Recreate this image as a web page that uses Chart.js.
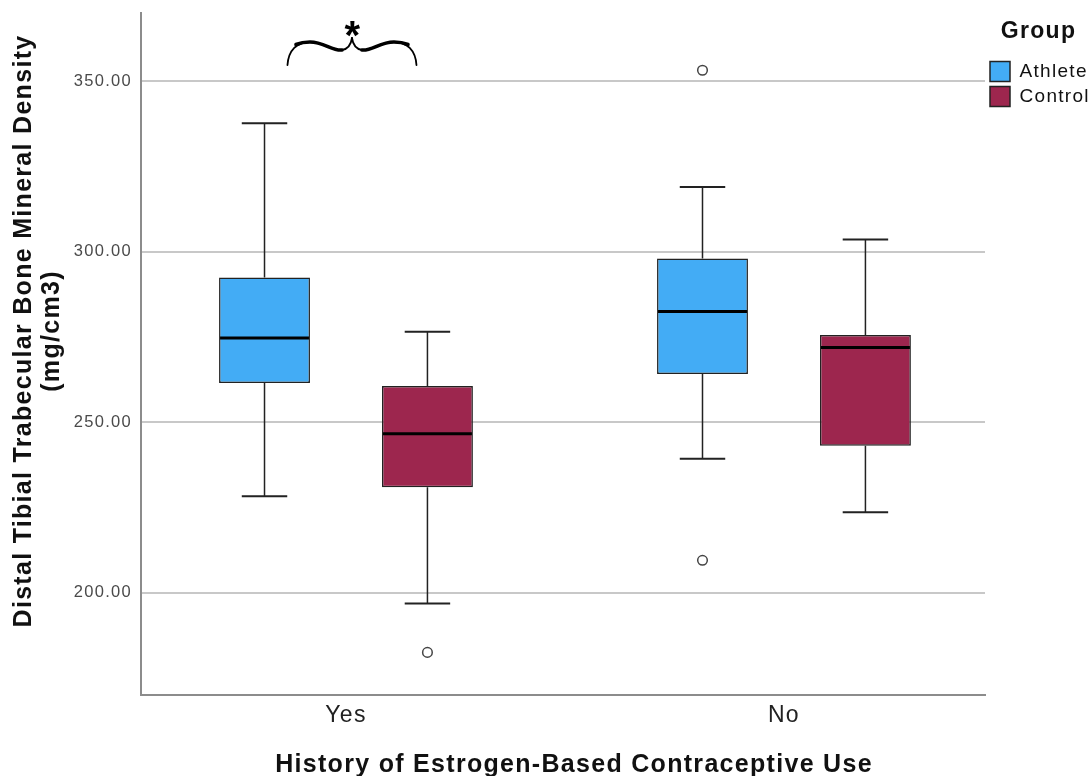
<!DOCTYPE html>
<html>
<head>
<meta charset="utf-8">
<script src="https://cdn.jsdelivr.net/npm/chart.js@4.4.1/dist/chart.umd.min.js"></script>
<style>
  html, body { margin: 0; padding: 0; background: #fff; }
  #wrap { width: 1092px; height: 776px; }
</style>
</head>
<body>
<div id="wrap"><canvas id="boxChart"></canvas></div>
<script>
// --- data ---
const categories = ['Yes', 'No'];
const groups = ['Athlete', 'Control'];
const yTicks = [200, 250, 300, 350];

const athleteMin = [228.3, 239.3];
const athleteQ1 = [261.5, 264.1];
const athleteMedian = [274.7, 282.5];
const athleteQ3 = [292.4, 298.0];
const athleteMax = [337.7, 319.0];
const athleteOutliers = [[], [353.2, 209.5]];

const controlMin = [196.8, 223.6];
const controlQ1 = [230.9, 243.1];
const controlMedian = [246.6, 271.9];
const controlQ3 = [260.6, 275.6];
const controlMax = [276.5, 303.6];
const controlOutliers = [[182.5], []];

const xTitle = 'History of Estrogen-Based Contraceptive Use';
const yTitle = ['Distal Tibial Trabecular Bone Mineral Density', '(mg/cm3)'];

const FONT = "'Liberation Sans', Arial, Helvetica, sans-serif";
Chart.defaults.font.family = FONT;

// 박스 데이터셋 만들기
function boxDataset(label, color, q1, q3, min, median, max, outliers) {
    return {
        label: label,
        data: categories.map((c, i) => ({ x: i, y: [q1[i], q3[i]] })),
        backgroundColor: color,
        borderColor: '#222',
        borderWidth: 1.5,
        borderSkipped: false,
        categoryPercentage: 0.744,
        barPercentage: 0.558,
        stats: { min: min, median: median, max: max, outliers: outliers }
    };
}

// 글자 간격 (원본 글꼴이 살짝 넓음)
const spacingPlugin = {
    id: 'spacing',
    beforeLayout(chart) { chart.ctx.letterSpacing = '1.3px'; },
    beforeDraw(chart) { chart.ctx.letterSpacing = '1.3px'; }
};

// 수염, 중앙값, 이상치
const whiskerPlugin = {
    id: 'whiskers',
    afterDatasetsDraw(chart) {
        const ctx = chart.ctx;
        const yScale = chart.scales.y;
        ctx.save();
        chart.data.datasets.forEach((ds, di) => {
            const meta = chart.getDatasetMeta(di);
            const s = ds.stats;
            meta.data.forEach((bar, i) => {
                const x = bar.x;
                const w = bar.width;
                const top = Math.min(bar.y, bar.base);
                const bottom = Math.max(bar.y, bar.base);
                const yMax = yScale.getPixelForValue(s.max[i]);
                const yMin = yScale.getPixelForValue(s.min[i]);
                const yMed = yScale.getPixelForValue(s.median[i]);

                ctx.strokeStyle = '#222';
                ctx.lineWidth = 1.5;
                ctx.beginPath();
                ctx.moveTo(x, top); ctx.lineTo(x, yMax);
                ctx.moveTo(x, bottom); ctx.lineTo(x, yMin);
                ctx.stroke();

                ctx.lineWidth = 2;
                ctx.beginPath();
                ctx.moveTo(x - w / 4, yMax); ctx.lineTo(x + w / 4, yMax);
                ctx.moveTo(x - w / 4, yMin); ctx.lineTo(x + w / 4, yMin);
                ctx.stroke();

                ctx.strokeStyle = '#000';
                ctx.lineWidth = 3;
                ctx.beginPath();
                ctx.moveTo(x - w / 2 + 1, yMed); ctx.lineTo(x + w / 2 - 1, yMed);
                ctx.stroke();

                ctx.strokeStyle = '#444';
                ctx.lineWidth = 1.5;
                ctx.fillStyle = '#fff';
                s.outliers[i].forEach(v => {
                    ctx.beginPath();
                    ctx.arc(x, yScale.getPixelForValue(v), 4.8, 0, Math.PI * 2);
                    ctx.fill();
                    ctx.stroke();
                });
            });
        });
        ctx.restore();
    }
};

// 축 제목 + 유의성 표시 (중괄호, *)
const titlesPlugin = {
    id: 'axisTitles',
    afterDraw(chart) {
        const ctx = chart.ctx;
        const area = chart.chartArea;
        ctx.save();
        ctx.fillStyle = '#111';
        ctx.font = 'bold 25px ' + FONT;
        ctx.textAlign = 'center';
        ctx.textBaseline = 'alphabetic';
        ctx.fillText(xTitle, (area.left + area.right) / 2 + 11, 772);

        ctx.save();
        ctx.translate(0, 331);
        ctx.rotate(-Math.PI / 2);
        ctx.fillText(yTitle[0], 0, 31);
        ctx.fillText(yTitle[1], 0, 59);
        ctx.restore();

        // brace over the "Yes" pair
        const cx = chart.scales.x.getPixelForValue(0) + 6;
        ctx.strokeStyle = '#000';
        ctx.lineCap = 'round';
        [-1, 1].forEach(d => {
            ctx.lineWidth = 1.8;
            ctx.beginPath();
            ctx.moveTo(cx + d * 64.5, 65);
            ctx.bezierCurveTo(cx + d * 63.5, 50, cx + d * 55, 42, cx + d * 42, 42);
            ctx.bezierCurveTo(cx + d * 28, 42, cx + d * 20, 51, cx + d * 10, 50);
            ctx.bezierCurveTo(cx + d * 4, 49, cx + d * 1, 45, cx, 38);
            ctx.stroke();
            // 가운데 부분은 더 굵게
            ctx.lineWidth = 3.6;
            ctx.beginPath();
            ctx.moveTo(cx + d * 56, 44.5);
            ctx.bezierCurveTo(cx + d * 50, 42, cx + d * 46, 42, cx + d * 42, 42);
            ctx.bezierCurveTo(cx + d * 28, 42, cx + d * 20, 51, cx + d * 10, 50);
            ctx.stroke();
        });
        ctx.font = 'bold 40px ' + FONT;
        ctx.fillStyle = '#000';
        ctx.fillText('*', cx + 1, 49);
        ctx.restore();
    }
};

const ctx = document.getElementById('boxChart').getContext('2d');
new Chart(ctx, {
    type: 'bar',
    data: {
        datasets: [
            boxDataset(groups[0], '#43acf5', athleteQ1, athleteQ3, athleteMin, athleteMedian, athleteMax, athleteOutliers),
            boxDataset(groups[1], '#9d264e', controlQ1, controlQ3, controlMin, controlMedian, controlMax, controlOutliers)
        ]
    },
    options: {
        responsive: true,
        maintainAspectRatio: false,
        animation: false,
        events: [],
        layout: { padding: { top: 13, right: 0, bottom: 0, left: 0 } },
        scales: {
            x: {
                type: 'linear',
                min: -0.468,
                max: 1.459,
                offset: false,
                afterBuildTicks: s => { s.ticks = categories.map((c, i) => ({ value: i })); },
                afterFit: s => { s.height = 81; s.paddingLeft = 0; s.paddingRight = 0; },
                grid: { display: false },
                border: { display: true, color: '#8c8c8c', width: 2 },
                ticks: {
                    callback: v => categories[v],
                    color: '#222',
                    font: { size: 23, lineHeight: 1 },
                    padding: 1,
                    maxRotation: 0,
                    autoSkip: false
                }
            },
            y: {
                min: 170,
                max: 370,
                afterBuildTicks: s => { s.ticks = yTicks.map(v => ({ value: v })); },
                afterFit: s => { s.width = 141; s.paddingTop = 0; s.paddingBottom = 0; },
                grid: { color: '#c8c8c8', lineWidth: 2, drawTicks: false },
                border: { color: '#8c8c8c', width: 2 },
                ticks: {
                    callback: v => v.toFixed(2),
                    color: '#4a4a4a',
                    font: { size: 16.5 },
                    padding: 9
                }
            }
        },
        plugins: {
            legend: {
                position: 'right',
                align: 'start',
                maxWidth: 107,
                title: {
                    display: true,
                    text: 'Group',
                    color: '#111',
                    font: { size: 23, weight: 'bold' },
                    padding: { top: 7, bottom: 9 }
                },
                labels: {
                    boxWidth: 20,
                    boxHeight: 20,
                    padding: 5,
                    color: '#111',
                    font: { size: 19 }
                }
            },
            tooltip: { enabled: false }
        }
    },
    plugins: [spacingPlugin, whiskerPlugin, titlesPlugin]
});
</script>
</body>
</html>
